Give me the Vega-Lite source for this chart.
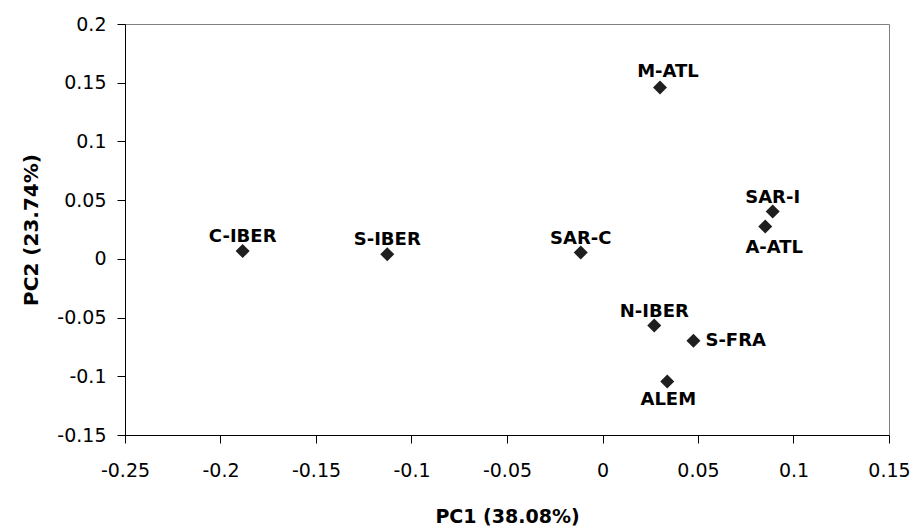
{
  "$schema": "https://vega.github.io/schema/vega-lite/v6.json",
  "width": 764,
  "height": 411,
  "autosize": {"type": "none"},
  "padding": {"left": 125, "top": 24, "right": 29, "bottom": 97},
  "background": "white",
  "config": {
    "view": {"stroke": "#808080", "strokeWidth": 1},
    "font": "DejaVu Sans",
    "axis": {
      "grid": false,
      "domainColor": "#000000",
      "domainWidth": 1,
      "tickColor": "#000000",
      "tickSize": 8,
      "labelFont": "DejaVu Sans",
      "labelFontSize": 19,
      "labelColor": "#000000",
      "titleFont": "DejaVu Sans",
      "titleFontWeight": "bold",
      "titleColor": "#000000"
    }
  },
  "data": {
    "values": [
      {"pop": "C-IBER", "pc1": -0.1884, "pc2": 0.0066},
      {"pop": "S-IBER", "pc1": -0.1127, "pc2": 0.004},
      {"pop": "SAR-C", "pc1": -0.0114, "pc2": 0.0054},
      {"pop": "M-ATL", "pc1": 0.0301, "pc2": 0.146},
      {"pop": "SAR-I", "pc1": 0.0891, "pc2": 0.0403},
      {"pop": "A-ATL", "pc1": 0.0852, "pc2": 0.0275},
      {"pop": "N-IBER", "pc1": 0.0271, "pc2": -0.0568},
      {"pop": "S-FRA", "pc1": 0.0476, "pc2": -0.0698},
      {"pop": "ALEM", "pc1": 0.0339, "pc2": -0.1045}
    ]
  },
  "encoding": {
    "x": {
      "field": "pc1",
      "type": "quantitative",
      "scale": {"domain": [-0.25, 0.15], "nice": false, "zero": false},
      "axis": {
        "title": "PC1 (38.08%)",
        "titleFontSize": 19,
        "titleBaseline": "alphabetic",
        "titleY": 87,
        "labelPadding": 18,
        "values": [-0.25, -0.2, -0.15, -0.1, -0.05, 0, 0.05, 0.1, 0.15],
        "labelExpr": "toString(round(datum.value*100)/100)",
        "labelFlush": false,
        "labelOverlap": false
      }
    },
    "y": {
      "field": "pc2",
      "type": "quantitative",
      "scale": {"domain": [-0.15, 0.2], "nice": false, "zero": false},
      "axis": {
        "title": "PC2 (23.74%)",
        "titleFontSize": 20,
        "titleBaseline": "alphabetic",
        "titleX": -88,
        "labelPadding": 11,
        "values": [-0.15, -0.1, -0.05, 0, 0.05, 0.1, 0.15, 0.2],
        "labelExpr": "toString(round(datum.value*100)/100)",
        "labelFlush": false,
        "labelOverlap": false
      }
    }
  },
  "layer": [
    {
      "mark": {"type": "point", "shape": "diamond", "filled": true, "size": 196, "color": "#1f1f1f", "opacity": 1}
    },
    {
      "transform": [{"filter": {"field": "pop", "oneOf": ["C-IBER", "S-IBER", "SAR-C", "SAR-I", "N-IBER"]}}],
      "mark": {"type": "text", "baseline": "alphabetic", "align": "center", "dy": -9, "fontWeight": "bold", "fontSize": 18, "color": "#000000"},
      "encoding": {"text": {"field": "pop"}}
    },
    {
      "transform": [{"filter": {"field": "pop", "equal": "M-ATL"}}],
      "mark": {"type": "text", "baseline": "alphabetic", "align": "center", "dx": 8, "dy": -10, "fontWeight": "bold", "fontSize": 18, "color": "#000000"},
      "encoding": {"text": {"field": "pop"}}
    },
    {
      "transform": [{"filter": {"field": "pop", "equal": "ALEM"}}],
      "mark": {"type": "text", "baseline": "top", "align": "center", "dx": 1, "dy": 9, "fontWeight": "bold", "fontSize": 18, "color": "#000000"},
      "encoding": {"text": {"field": "pop"}}
    },
    {
      "transform": [{"filter": {"field": "pop", "equal": "A-ATL"}}],
      "mark": {"type": "text", "baseline": "top", "align": "center", "dx": 9, "dy": 12, "fontWeight": "bold", "fontSize": 18, "color": "#000000"},
      "encoding": {"text": {"field": "pop"}}
    },
    {
      "transform": [{"filter": {"field": "pop", "equal": "S-FRA"}}],
      "mark": {"type": "text", "baseline": "middle", "align": "left", "dx": 12, "fontWeight": "bold", "fontSize": 18, "color": "#000000"},
      "encoding": {"text": {"field": "pop"}}
    }
  ]
}
